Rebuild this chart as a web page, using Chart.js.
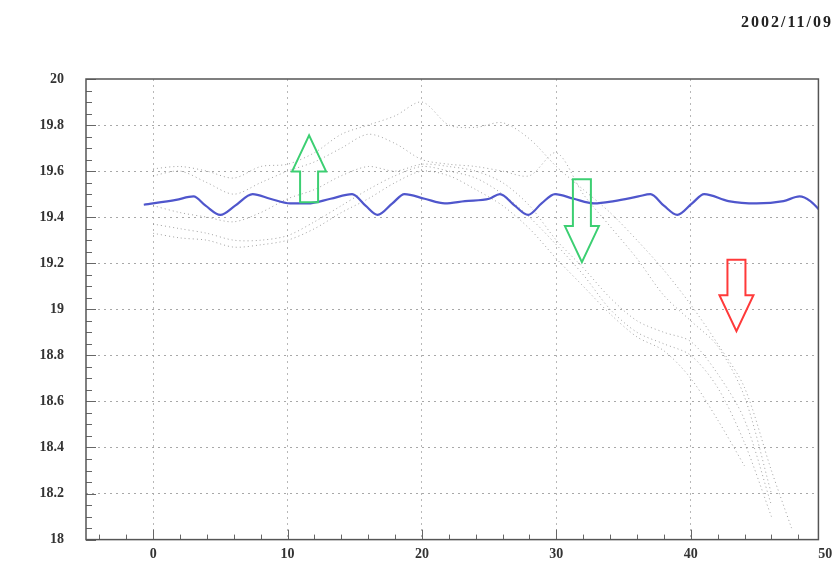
<!DOCTYPE html>
<html>
<head>
<meta charset="utf-8">
<script src="https://cdn.jsdelivr.net/npm/chart.js@4.4.1/dist/chart.umd.min.js"></script>
<style>
  html, body { margin:0; padding:0; background:#fff; }
  #wrap { width:838px; height:570px; }
</style>
</head>
<body>
<div id="wrap"><canvas id="chart" width="838" height="570"></canvas></div>
<script>
// ============================================================
// DATA
// ============================================================

const xTicks = [0, 10, 20, 30, 40, 50];
const yTicks = [18, 18.2, 18.4, 18.6, 18.8, 19, 19.2, 19.4, 19.6, 19.8, 20];
const runDate = '2002/11/09';

// reference curve (blue)
const blueX = [-0.7, 1.7, 3.0, 3.9, 5.0, 6.1, 7.4, 8.7, 10.2, 11.5, 13.2, 14.8, 15.8, 16.7, 17.8, 18.7,
               20.2, 21.7, 23.2, 25.0, 25.8, 26.9, 27.9, 28.9, 29.9, 31.3, 32.8, 34.3, 36.1, 37.0,
               38.0, 39.0, 40.1, 41.0, 42.8, 44.9, 46.9, 48.1, 48.9, 49.6];
const blueY = [19.454, 19.475, 19.49, 19.45, 19.41, 19.45, 19.50, 19.48, 19.46, 19.46, 19.48, 19.50, 19.45, 19.41, 19.46, 19.50,
               19.48, 19.46, 19.47, 19.48, 19.50, 19.45, 19.41, 19.46, 19.50, 19.48, 19.46, 19.47, 19.49, 19.50,
               19.45, 19.41, 19.46, 19.50, 19.47, 19.46, 19.47, 19.49, 19.47, 19.43];

// measured runs (grey dotted band)
const runX  = [0, 2, 4, 6, 8, 10, 12, 14, 16, 18, 20, 22, 24, 26, 28, 30, 32, 34, 36, 38, 40, 42, 44, 46, 47.5];
const run1 = [19.61, 19.62, 19.60, 19.57, 19.62, 19.63, 19.68, 19.76, 19.80, 19.84, 19.90, 19.80, 19.79, 19.81, 19.74, 19.62, 19.52, 19.42, 19.30, 19.17, 19.02, 18.85, 18.66, 18.30, 18.05];
const run2 = [19.58, 19.60, 19.55, 19.50, 19.55, 19.60, 19.64, 19.70, 19.76, 19.72, 19.65, 19.63, 19.62, 19.60, 19.58, 19.68, 19.50, 19.36, 19.22, 19.06, 18.95, 18.84, 18.62, 18.20, null];
const run3 = [19.45, 19.42, 19.40, 19.38, 19.42, 19.48, 19.52, 19.58, 19.62, 19.60, 19.63, 19.62, 19.60, 19.55, 19.45, 19.30, 19.18, 19.05, 18.95, 18.90, 18.86, 18.72, 18.52, 18.15, null];
const run4 = [19.37, 19.35, 19.33, 19.30, 19.30, 19.32, 19.38, 19.45, 19.52, 19.58, 19.62, 19.60, 19.57, 19.50, 19.40, 19.28, 19.15, 19.00, 18.90, 18.85, 18.80, 18.66, 18.42, 18.10, null];
const run5 = [19.33, 19.31, 19.30, 19.27, 19.28, 19.30, 19.35, 19.42, 19.48, 19.55, 19.60, 19.58, 19.52, 19.45, 19.35, 19.22, 19.10, 18.98, 18.88, 18.82, 18.70, 18.52, 18.32, null, null];

// markers: position, start value, end value
const arrowX     = [11.6, 31.9, 43.4];
const arrowFrom  = [19.465, 19.565, 19.215];
const arrowTo    = [19.755, 19.205, 18.905];
const arrowColor = ['#3ccf72', '#3ccf72', '#ff3a3a'];

// ============================================================
// CHART
// ============================================================

const FONT = '"Liberation Serif", "DejaVu Serif", serif';
const pts = (xs, ys) => xs.map((x, i) => ({ x, y: ys[i] }));

const greyRun = (ys) => ({
  data: pts(runX, ys), borderColor: 'rgba(100,100,100,0.6)', borderWidth: 1,
  borderDash: [1, 3], pointRadius: 0, tension: 0.3, spanGaps: false, order: 2
});

const framePlugin = {
  id: 'frame',
  afterDatasetsDraw(chart) {
    const { ctx, chartArea: a, scales: { x, y } } = chart;
    ctx.save();

    // inward tick marks
    ctx.strokeStyle = '#666';
    ctx.lineWidth = 1;
    ctx.beginPath();
    for (let v = 18; v <= 20.001; v += 0.05) {
      const py = Math.round(y.getPixelForValue(v)) + 0.5;
      const major = Math.abs(v * 5 - Math.round(v * 5)) < 1e-6;
      ctx.moveTo(a.left, py); ctx.lineTo(a.left + (major ? 10 : 6), py);
    }
    for (let v = -4; v <= 48; v += 2) {
      const px = Math.round(x.getPixelForValue(v)) + 0.5;
      const major = v % 10 === 0;
      ctx.moveTo(px, a.bottom); ctx.lineTo(px, a.bottom - (major ? 10 : 5));
    }
    ctx.stroke();

    // frame
    ctx.strokeStyle = '#555';
    ctx.lineWidth = 1.5;
    ctx.strokeRect(a.left, a.top, a.right - a.left, a.bottom - a.top);

    // hollow arrows
    ctx.lineWidth = 2;
    ctx.lineJoin = 'miter';
    arrowX.forEach((v, i) => {
      const cx = x.getPixelForValue(v);
      const y0 = y.getPixelForValue(arrowFrom[i]);
      const y1 = y.getPixelForValue(arrowTo[i]);
      const dir = Math.sign(y1 - y0);
      const hb = y1 - dir * 36;
      ctx.strokeStyle = arrowColor[i];
      ctx.beginPath();
      ctx.moveTo(cx - 9, y0);
      ctx.lineTo(cx - 9, hb);
      ctx.lineTo(cx - 17, hb);
      ctx.lineTo(cx, y1);
      ctx.lineTo(cx + 17, hb);
      ctx.lineTo(cx + 9, hb);
      ctx.lineTo(cx + 9, y0);
      ctx.closePath();
      ctx.stroke();
    });

    // date stamp (runs off the right edge)
    ctx.fillStyle = '#222';
    ctx.font = 'bold 16px ' + FONT;
    ctx.letterSpacing = '2px';
    ctx.textAlign = 'left';
    ctx.textBaseline = 'middle';
    ctx.fillText(runDate, 741, 23);
    ctx.restore();
  }
};

new Chart(document.getElementById('chart'), {
  type: 'line',
  data: {
    datasets: [
      { data: pts(blueX, blueY), borderColor: '#4f56cc', borderWidth: 2.2, pointRadius: 0,
        tension: 0.4, cubicInterpolationMode: 'monotone', order: 1 },
      greyRun(run1), greyRun(run2), greyRun(run3), greyRun(run4), greyRun(run5)
    ]
  },
  options: {
    responsive: false,
    animation: false,
    layout: { padding: { top: 79, right: 16, left: 0, bottom: 0 } },
    plugins: { legend: { display: false }, tooltip: { enabled: false } },
    scales: {
      x: {
        type: 'linear', min: -5, max: 49.5,
        afterBuildTicks: s => { s.ticks = xTicks.map(v => ({ value: v })); },
        afterFit: s => { s.height = 25; },
        grid: { color: ctx => ctx.tick && ctx.tick.value >= 0 && ctx.tick.value < 49 ? '#b8b8b8' : 'transparent',
                drawTicks: false, lineWidth: 1 },
        border: { display: false, dash: [2, 4] },
        ticks: { padding: 6, color: '#333', font: { family: FONT, size: 14, weight: 'bold' } }
      },
      y: {
        type: 'linear', min: 18, max: 20,
        afterBuildTicks: s => { s.ticks = yTicks.map(v => ({ value: v })); },
        afterFit: s => { s.width = 86; },
        grid: { color: ctx => ctx.tick && ctx.tick.value > 18 && ctx.tick.value < 20 ? '#a8a8a8' : 'transparent',
                drawTicks: false, lineWidth: 1 },
        border: { display: false, dash: [2, 4] },
        ticks: { padding: 22, color: '#333', font: { family: FONT, size: 14, weight: 'bold' },
                 callback: v => String(Math.round(v * 10) / 10) }
      }
    }
  },
  plugins: [framePlugin]
});
</script>
</body>
</html>
